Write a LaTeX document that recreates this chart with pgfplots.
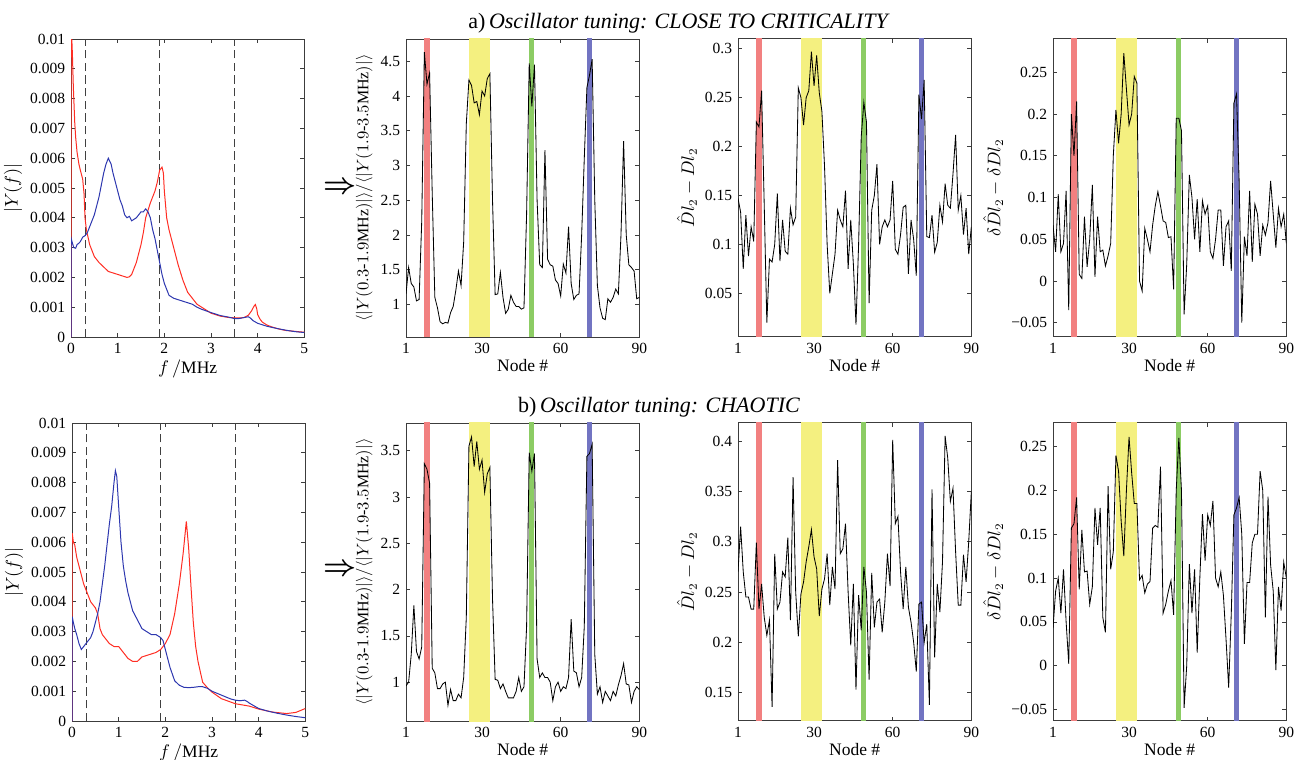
\documentclass[border=0pt]{standalone}
\usepackage{amsmath}
\usepackage{pgfplots}
\pgfplotsset{compat=1.18}
\usepackage{pgfplotstable}
\usepackage{fontspec}
\setmainfont{Liberation Serif}

\definecolor{bandred}{RGB}{242,128,128}
\definecolor{bandyellow}{RGB}{244,240,128}
\definecolor{bandgreen}{RGB}{140,204,100}
\definecolor{bandblue}{RGB}{114,116,194}
\definecolor{specred}{RGB}{255,45,35}
\definecolor{specblue}{RGB}{45,55,175}
\definecolor{frame}{RGB}{60,60,60}

% node data, top row (close to criticality): ratio, Dl, delta Dl
\pgfplotstableread{
n r d dd
1 1.15 0.147 0.067
2 1.53 0.133 0.035
3 1.30 0.075 0.104
4 1.25 0.130 0.035
5 1.05 0.088 0.045
6 1.07 0.118 0.108
7 2.20 0.103 -0.035
8 4.63 0.225 0.200
9 4.17 0.220 0.150
10 4.33 0.257 0.215
11 2.60 0.140 0.008
12 1.10 0.020 0.003
13 0.95 0.085 0.077
14 0.75 0.082 0.017
15 0.72 0.100 0.050
16 0.74 0.152 0.115
17 0.73 0.083 0.005
18 0.88 0.125 0.077
19 0.97 0.093 0.035
20 1.20 0.090 0.037
21 1.48 0.137 0.018
22 1.27 0.120 0.030
23 1.90 0.128 0.045
24 3.60 0.260 0.150
25 4.23 0.250 0.205
26 4.15 0.222 0.165
27 3.90 0.250 0.200
28 3.92 0.257 0.273
29 3.73 0.297 0.230
30 4.07 0.262 0.187
31 4.00 0.293 0.200
32 4.25 0.255 0.245
33 4.32 0.236 0.237
34 2.50 0.180 0.000
35 1.14 0.100 -0.012
36 1.15 0.050 0.063
37 1.46 0.070 0.050
38 1.10 0.090 0.035
39 0.87 0.135 0.067
40 0.93 0.125 0.090
41 1.13 0.118 0.107
42 1.03 0.155 0.090
43 0.97 0.075 0.072
44 0.97 0.125 0.070
45 0.93 0.080 0.052
46 0.95 0.018 0.053
47 2.30 0.100 -0.010
48 4.47 0.210 0.195
49 3.85 0.245 0.195
50 4.45 0.225 0.180
51 2.50 0.040 -0.040
52 1.57 0.135 0.020
53 1.53 0.150 0.127
54 3.22 0.182 0.100
55 1.65 0.100 0.050
56 1.57 0.118 0.098
57 1.55 0.125 0.035
58 1.35 0.118 0.096
59 1.30 0.125 0.080
60 1.12 0.165 0.090
61 1.58 0.095 0.035
62 1.45 0.090 0.027
63 2.12 0.110 0.050
64 1.30 0.138 0.085
65 1.07 0.140 0.085
66 1.13 0.070 0.018
67 1.15 0.125 0.065
68 2.00 0.105 0.072
69 3.10 0.068 0.012
70 4.12 0.253 0.213
71 4.30 0.228 0.224
72 4.53 0.268 0.120
73 2.50 0.108 -0.050
74 1.27 0.107 0.053
75 0.95 0.130 0.030
76 0.80 0.092 0.108
77 0.78 0.102 0.023
78 1.08 0.140 0.092
79 1.03 0.123 0.080
80 1.10 0.162 0.030
81 1.22 0.140 0.067
82 1.15 0.137 0.055
83 2.00 0.172 0.070
84 3.35 0.212 0.120
85 2.00 0.135 0.080
86 1.57 0.150 0.040
87 1.53 0.110 0.087
88 1.48 0.137 0.065
89 1.08 0.090 0.080
90 1.10 0.118 0.045
}\tabtop

% node data, bottom row (chaotic)
\pgfplotstableread{
n r d dd
1 0.96 0.270 0.043
2 1.00 0.315 0.085
3 1.30 0.270 0.100
4 1.83 0.245 0.060
5 1.33 0.245 0.110
6 1.25 0.233 0.050
7 1.38 0.233 0.002
8 3.36 0.299 0.157
9 3.30 0.233 0.162
10 3.15 0.258 0.192
11 1.15 0.225 0.087
12 1.10 0.207 0.155
13 0.93 0.222 0.107
14 0.93 0.136 0.108
15 0.98 0.288 0.070
16 1.00 0.233 0.090
17 0.75 0.240 0.180
18 0.92 0.270 0.138
19 0.80 0.265 0.180
20 0.80 0.304 0.055
21 0.87 0.222 0.038
22 0.83 0.364 0.205
23 1.05 0.250 0.110
24 1.70 0.206 0.130
25 3.55 0.248 0.240
26 3.65 0.260 0.222
27 3.33 0.280 0.165
28 3.60 0.295 0.125
29 3.30 0.312 0.200
30 3.40 0.285 0.261
31 3.05 0.273 0.220
32 3.25 0.226 0.185
33 3.32 0.253 0.185
34 1.90 0.263 0.098
35 1.03 0.288 0.103
36 1.02 0.237 0.083
37 0.93 0.275 0.093
38 0.98 0.253 0.096
39 0.90 0.381 0.157
40 0.83 0.288 0.160
41 0.83 0.293 0.158
42 0.83 0.318 0.227
43 0.90 0.250 0.060
44 1.05 0.197 0.070
45 0.90 0.258 0.085
46 0.95 0.153 0.097
47 1.60 0.247 0.058
48 3.48 0.212 0.200
49 3.28 0.275 0.260
50 3.47 0.250 0.200
51 1.25 0.163 -0.048
52 1.05 0.269 0.000
53 1.10 0.215 0.116
54 1.05 0.240 0.060
55 1.05 0.243 0.110
56 1.00 0.210 0.015
57 0.80 0.240 0.100
58 0.95 0.288 0.173
59 1.00 0.256 0.120
60 0.90 0.401 0.172
61 0.95 0.318 0.160
62 0.93 0.325 0.188
63 1.05 0.270 0.100
64 1.68 0.233 0.090
65 1.12 0.275 0.107
66 1.10 0.235 0.080
67 0.95 0.220 0.030
68 1.05 0.200 -0.025
69 1.60 0.171 0.060
70 3.44 0.238 0.172
71 3.47 0.240 0.180
72 3.57 0.200 0.192
73 1.30 0.218 0.150
74 0.87 0.138 0.025
75 0.95 0.352 0.095
76 0.78 0.185 0.095
77 0.90 0.258 0.140
78 0.85 0.230 0.150
79 0.80 0.280 0.150
80 0.90 0.405 0.222
81 0.85 0.383 0.200
82 0.97 0.340 0.055
83 1.07 0.353 0.193
84 1.20 0.290 0.115
85 0.98 0.237 0.085
86 0.97 0.237 -0.005
87 0.78 0.287 0.090
88 0.90 0.260 0.063
89 0.95 0.300 0.118
90 0.92 0.350 0.100
}\tabbot

\pgfplotsset{
  panel/.style={
    scale only axis, width=140pt, height=178.8pt, anchor=south west,
    tick align=inside, major tick length=2.6pt,
    axis line style={frame, line width=0.5pt},
    every tick/.style={frame, line width=0.4pt},
    font=\fontsize{9.3}{11}\selectfont,
    xlabel style={font=\fontsize{10.5}{12}\selectfont, yshift=3pt},
    ylabel style={font=\fontsize{10.5}{12}\selectfont, yshift=-2pt},
    scaled ticks=false,
  },
  nodeax/.style={panel, xmin=1, xmax=90, xtick={1,30,60,90},
    xticklabels={1,30,60,90}, xlabel={Node \#}},
  specax/.style={panel, xmin=0, xmax=5, ymin=0, ymax=0.01,
    xtick={0,1,2,3,4,5}, xticklabels={0,1,2,3,4,5},
    ytick={0,0.001,0.002,0.003,0.004,0.005,0.006,0.007,0.008,0.009,0.01},
    yticklabels={0,0.001,0.002,0.003,0.004,0.005,0.006,0.007,0.008,0.009,0.01},
    ylabel={$|Y(f)|$}, xlabel={$f\,/$MHz}},
  ratioax/.style={nodeax,
    ylabel={$\langle|Y(0.3\mbox{-}1.9\mathrm{MHz})|\rangle/\langle|Y(1.9\mbox{-}3.5\mathrm{MHz})|\rangle$},
    ylabel style={font=\fontsize{9.6}{11}\selectfont}},
  nline/.style={black, line width=0.5pt},
  dline/.style={black!75, line width=0.6pt, dash pattern=on 5pt off 2.6pt},
}

\newcommand\bands{%
  \addplot[draw=none, fill=bandred] coordinates {(8,-9) (10,-9) (10,9) (8,9)} --cycle;
  \addplot[draw=none, fill=bandyellow] coordinates {(25,-9) (33,-9) (33,9) (25,9)} --cycle;
  \addplot[draw=none, fill=bandgreen] coordinates {(48,-9) (50,-9) (50,9) (48,9)} --cycle;
  \addplot[draw=none, fill=bandblue] coordinates {(70,-9) (72,-9) (72,9) (70,9)} --cycle;
}
\newcommand\dashes{%
  \addplot[dline] coordinates {(0.3,0) (0.3,0.01)};
  \addplot[dline] coordinates {(1.9,0) (1.9,0.01)};
  \addplot[dline] coordinates {(3.5,0) (3.5,0.01)};
}

\begin{document}
\begin{tikzpicture}
\useasboundingbox (0,0) rectangle (781.2pt,-455.4pt);

\node[anchor=base] at (407.4pt,-17pt) {\fontsize{13.2}{15}\selectfont a)\,\textit{Oscillator tuning: CLOSE TO CRITICALITY}};
\node[anchor=base] at (395.4pt,-247.2pt) {\fontsize{13.2}{15}\selectfont b)\,\textit{Oscillator tuning: CHAOTIC}};
\node at (204pt,-112.8pt) {\fontsize{17}{18}\selectfont$\boldsymbol{\Rightarrow}$};
\node at (204pt,-342pt) {\fontsize{17}{18}\selectfont$\boldsymbol{\Rightarrow}$};

% ---------- top row ----------
\begin{axis}[specax, at={(42.6pt,-202.2pt)}]
\dashes
\addplot[specred, line width=0.6pt] coordinates {
(0,0) (0.005,0.0105) (0.03,0.0095) (0.05,0.0084) (0.08,0.0072) (0.1,0.0067)
(0.13,0.0062) (0.17,0.0058) (0.2,0.0056) (0.25,0.0053) (0.28,0.0048) (0.3,0.0040)
(0.33,0.0036) (0.4,0.0031) (0.5,0.0027) (0.6,0.0025) (0.7,0.00235) (0.8,0.0022)
(0.9,0.00215) (1.0,0.0021) (1.1,0.00205) (1.2,0.0020) (1.25,0.00202) (1.3,0.0021)
(1.35,0.0023) (1.4,0.0025) (1.45,0.0028) (1.5,0.0031) (1.55,0.0035) (1.6,0.0040)
(1.7,0.0045) (1.8,0.0049) (1.85,0.0052) (1.9,0.0056) (1.95,0.0057) (1.98,0.0055)
(2.0,0.0049) (2.05,0.0040) (2.1,0.0036) (2.15,0.0033) (2.2,0.0030) (2.3,0.0024)
(2.4,0.0019) (2.5,0.0015) (2.6,0.0013) (2.7,0.0011) (2.85,0.00095) (3.0,0.0008)
(3.2,0.0007) (3.4,0.00065) (3.6,0.00064) (3.7,0.00065) (3.8,0.00073) (3.87,0.00088)
(3.92,0.00103) (3.95,0.00109) (3.98,0.00095) (4.0,0.00075) (4.05,0.0006) (4.1,0.0005)
(4.2,0.0004) (4.3,0.00034) (4.45,0.00027) (4.6,0.00022) (4.8,0.00019) (5.0,0.00016)};
\addplot[specblue, line width=0.6pt] coordinates {
(0,0) (0.005,0.0033) (0.03,0.00315) (0.06,0.0030) (0.1,0.00298) (0.13,0.0031)
(0.17,0.00315) (0.2,0.0032) (0.25,0.00335) (0.3,0.0034) (0.35,0.0035) (0.4,0.0037)
(0.45,0.0039) (0.5,0.0041) (0.55,0.0044) (0.6,0.0047) (0.65,0.0051) (0.7,0.0055)
(0.75,0.0058) (0.8,0.0060) (0.83,0.0059) (0.86,0.0058) (0.9,0.0055) (0.95,0.0052)
(1.0,0.0049) (1.05,0.0046) (1.1,0.0044) (1.15,0.0041) (1.2,0.0040) (1.25,0.00405)
(1.3,0.0039) (1.35,0.00395) (1.4,0.0040) (1.45,0.0041) (1.5,0.0042) (1.55,0.0042)
(1.6,0.0043) (1.65,0.0042) (1.7,0.0040) (1.75,0.0036) (1.8,0.0033) (1.85,0.0029)
(1.9,0.0025) (1.95,0.0021) (2.0,0.0018) (2.05,0.0016) (2.1,0.0014) (2.2,0.0013)
(2.3,0.00125) (2.4,0.0012) (2.5,0.00115) (2.6,0.0011) (2.7,0.0010) (2.8,0.00093)
(3.0,0.00082) (3.2,0.00072) (3.4,0.00066) (3.5,0.00062) (3.6,0.00062) (3.7,0.00065)
(3.8,0.00068) (3.85,0.00063) (3.9,0.00055) (4.0,0.00046) (4.2,0.00036) (4.4,0.00029)
(4.6,0.00023) (4.8,0.00018) (5.0,0.00015)};
\end{axis}

\begin{axis}[ratioax, at={(243.6pt,-202.2pt)}, ymin=0.53, ymax=4.82,
  ytick={1,1.5,2,2.5,3,3.5,4,4.5}, yticklabels={1,1.5,2,2.5,3,3.5,4,4.5}]
\bands
\addplot[nline] table[x=n, y=r] {\tabtop};
\end{axis}

\begin{axis}[nodeax, at={(442.8pt,-202.2pt)}, ymin=0.0055, ymax=0.31,
  ytick={0.05,0.1,0.15,0.2,0.25,0.3}, yticklabels={0.05,0.1,0.15,0.2,0.25,0.3},
  ylabel={$\hat{D}l_2-Dl_2$}]
\bands
\addplot[nline] table[x=n, y=d] {\tabtop};
\end{axis}

\begin{axis}[nodeax, at={(631.8pt,-202.2pt)}, ymin=-0.067, ymax=0.29,
  ytick={-0.05,0,0.05,0.1,0.15,0.2,0.25}, yticklabels={−0.05,0,0.05,0.1,0.15,0.2,0.25},
  ylabel={$\delta\hat{D}l_2-\delta Dl_2$}]
\bands
\addplot[nline] table[x=n, y=dd] {\tabtop};
\end{axis}

% ---------- bottom row ----------
\begin{axis}[specax, at={(43.2pt,-432.6pt)}]
\dashes
\addplot[specred, line width=0.6pt] coordinates {
(0,0) (0.005,0.0063) (0.03,0.0060) (0.06,0.0059) (0.1,0.0055) (0.15,0.0052)
(0.2,0.0049) (0.25,0.0046) (0.3,0.0044) (0.35,0.0042) (0.4,0.0040) (0.45,0.0039)
(0.5,0.0038) (0.55,0.0036) (0.6,0.0031) (0.65,0.0029) (0.7,0.0028) (0.8,0.0026)
(0.9,0.0025) (1.0,0.0025) (1.05,0.0024) (1.1,0.0023) (1.2,0.0021) (1.3,0.0020)
(1.4,0.0020) (1.5,0.00215) (1.6,0.0022) (1.7,0.00225) (1.8,0.0023) (1.9,0.0024)
(2.0,0.0026) (2.1,0.0029) (2.2,0.0036) (2.3,0.0046) (2.38,0.0056) (2.45,0.0067)
(2.5,0.0058) (2.55,0.0045) (2.6,0.0033) (2.65,0.0025) (2.7,0.0020) (2.8,0.0013)
(2.9,0.00112) (3.0,0.00097) (3.2,0.00075) (3.5,0.00058) (3.8,0.0005) (4.0,0.0004)
(4.3,0.0003) (4.6,0.00025) (4.8,0.00029) (5.0,0.00042)};
\addplot[specblue, line width=0.6pt] coordinates {
(0,0) (0.005,0.0035) (0.03,0.0033) (0.06,0.0031) (0.1,0.0029) (0.15,0.0026)
(0.2,0.0024) (0.25,0.0025) (0.3,0.0026) (0.35,0.0027) (0.4,0.0028) (0.45,0.0030)
(0.5,0.0033) (0.55,0.0036) (0.6,0.0040) (0.65,0.0046) (0.7,0.0052) (0.75,0.0059)
(0.8,0.0066) (0.85,0.0072) (0.9,0.0080) (0.93,0.0084) (0.96,0.0082) (1.0,0.0072)
(1.05,0.0060) (1.1,0.0052) (1.15,0.0047) (1.2,0.0043) (1.3,0.0037) (1.4,0.0034)
(1.5,0.0031) (1.6,0.0030) (1.7,0.0029) (1.8,0.0029) (1.9,0.0028) (1.95,0.0027)
(2.0,0.0024) (2.05,0.0021) (2.1,0.0018) (2.2,0.00135) (2.3,0.0012) (2.4,0.00113)
(2.5,0.00112) (2.6,0.00113) (2.7,0.00115) (2.8,0.00115) (2.9,0.0011) (3.0,0.0010)
(3.2,0.00087) (3.4,0.00074) (3.5,0.0007) (3.6,0.00068) (3.7,0.0007) (3.75,0.00066)
(3.8,0.0006) (4.0,0.00042) (4.2,0.00033) (4.4,0.00026) (4.6,0.0002) (4.8,0.00015)
(5.0,0.00011)};
\end{axis}

\begin{axis}[ratioax, at={(243.6pt,-432.6pt)}, ymin=0.58, ymax=3.80,
  ytick={1,1.5,2,2.5,3,3.5}, yticklabels={1,1.5,2,2.5,3,3.5}]
\bands
\addplot[nline] table[x=n, y=r] {\tabbot};
\end{axis}

\begin{axis}[nodeax, at={(442.8pt,-432.6pt)}, ymin=0.122, ymax=0.418,
  ytick={0.15,0.2,0.25,0.3,0.35,0.4}, yticklabels={0.15,0.2,0.25,0.3,0.35,0.4},
  ylabel={$\hat{D}l_2-Dl_2$}]
\bands
\addplot[nline] table[x=n, y=d] {\tabbot};
\end{axis}

\begin{axis}[nodeax, at={(631.8pt,-432.6pt)}, ymin=-0.063, ymax=0.277,
  ytick={-0.05,0,0.05,0.1,0.15,0.2,0.25}, yticklabels={−0.05,0,0.05,0.1,0.15,0.2,0.25},
  ylabel={$\delta\hat{D}l_2-\delta Dl_2$}]
\bands
\addplot[nline] table[x=n, y=dd] {\tabbot};
\end{axis}
\end{tikzpicture}
\end{document}
